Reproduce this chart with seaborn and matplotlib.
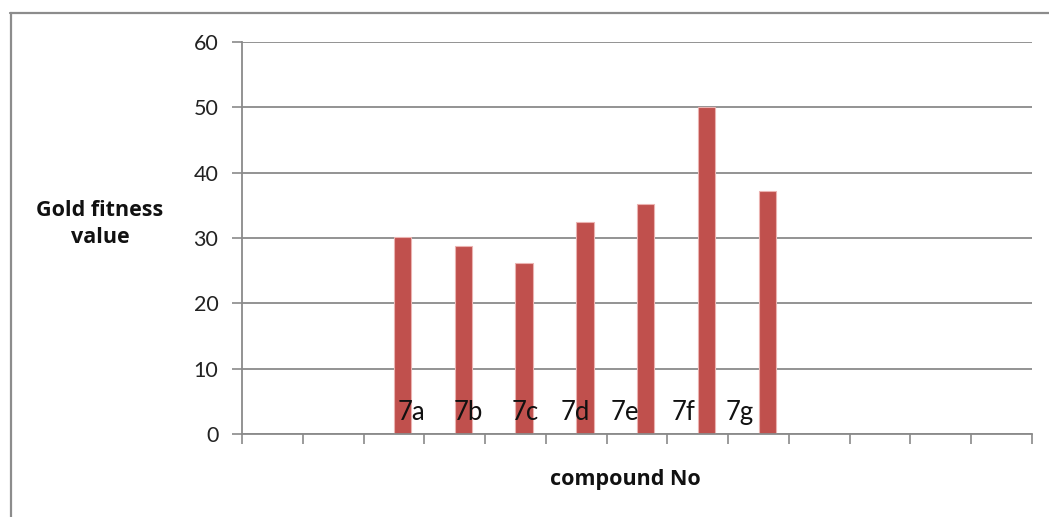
import numpy as np
import pandas as pd
import seaborn as sns
import matplotlib.pyplot as plt
from matplotlib.lines import Line2D

# Gold fitness values per compound
compounds = ["7a", "7b", "7c", "7d", "7e", "7f", "7g"]
fitness = [30.1, 28.8, 26.1, 32.5, 35.2, 50.0, 37.2]

# empty category slots before and after the compounds on the x axis
lead_slots = 2
trail_slots = 4
y_ticks = [0, 10, 20, 30, 40, 50, 60]

# horizontal placement of each compound label inside its slot (slot units)
label_dx = [0.29, 0.22, 0.16, -0.01, -0.20, -0.24, -0.31]

n_slots = lead_slots + len(compounds) + trail_slots
slots = ([f"_{i}" for i in range(lead_slots)] + compounds +
         [f"_{i}" for i in range(lead_slots + len(compounds), n_slots)])

df = pd.DataFrame({"compound": compounds, "fitness": fitness,
                   "series": "Gold fitness value"})

sns.set_style("white")
plt.rcParams["font.family"] = ["Lato", "DejaVu Sans"]

W, H = 1049, 517
fig = plt.figure(figsize=(W / 100, H / 100), dpi=100)
ax = fig.add_axes([242 / W, 1 - 434 / H, (1032 - 242) / W, (434 - 42) / H])

bar_red = "#C0504D"
sns.barplot(data=df, x="compound", y="fitness", hue="series",
            order=slots, hue_order=["", "Gold fitness value"],
            palette={"": bar_red, "Gold fitness value": bar_red},
            width=2 / 3.5, dodge=True, saturation=1, legend=False,
            edgecolor="#EBB3B1", linewidth=0.8, ax=ax)

grid_c = "#8a8a8a"
ax.set_xlim(-0.5, n_slots - 0.5)
ax.set_ylim(0, 60)
ax.set_yticks(y_ticks)
ax.set_yticklabels([str(t) for t in y_ticks], fontsize=15.5, color="#222222")
ax.set_xticks(np.arange(-0.5, n_slots, 1.0))
ax.set_xticklabels([])
ax.yaxis.grid(True, color=grid_c, lw=1.3)
ax.xaxis.grid(False)
ax.set_axisbelow(True)
ax.tick_params(axis="both", which="both", direction="out", length=7,
               width=1.2, color=grid_c, bottom=True, left=True)
ax.tick_params(axis="y", pad=10)
for side in ("top", "right"):
    ax.spines[side].set_visible(False)
for side in ("left", "bottom"):
    ax.spines[side].set_color(grid_c)
    ax.spines[side].set_linewidth(1.3)
ax.set_xlabel("")
ax.set_ylabel("")

# compound names written at the foot of the bars
for i, (name, dx) in enumerate(zip(compounds, label_dx)):
    ax.text(lead_slots + i + dx, 2.15, name, ha="center", va="baseline",
            fontsize=18.5, color="#111111")

title_font = ["Open Sans", "DejaVu Sans"]
fig.text(100 / W, 1 - 224 / H, "Gold fitness\nvalue", ha="center",
         va="center", fontsize=15.5, fontweight="bold", linespacing=1.35,
         color="#111111", family=title_font)
fig.text(625 / W, 1 - 480 / H, "compound No", ha="center", va="center",
         fontsize=15.5, fontweight="bold", color="#111111", family=title_font)

# chart-area frame (left and top edges)
frame_c = "#8c8c8c"
fig.add_artist(Line2D([10.5 / W, 10.5 / W], [1 - 12.5 / H, 0],
                      color=frame_c, lw=1.6, transform=fig.transFigure))
fig.add_artist(Line2D([9.7 / W, 1], [1 - 12.5 / H, 1 - 12.5 / H],
                      color=frame_c, lw=1.6, transform=fig.transFigure))

fig.savefig("out.png", dpi=100)
